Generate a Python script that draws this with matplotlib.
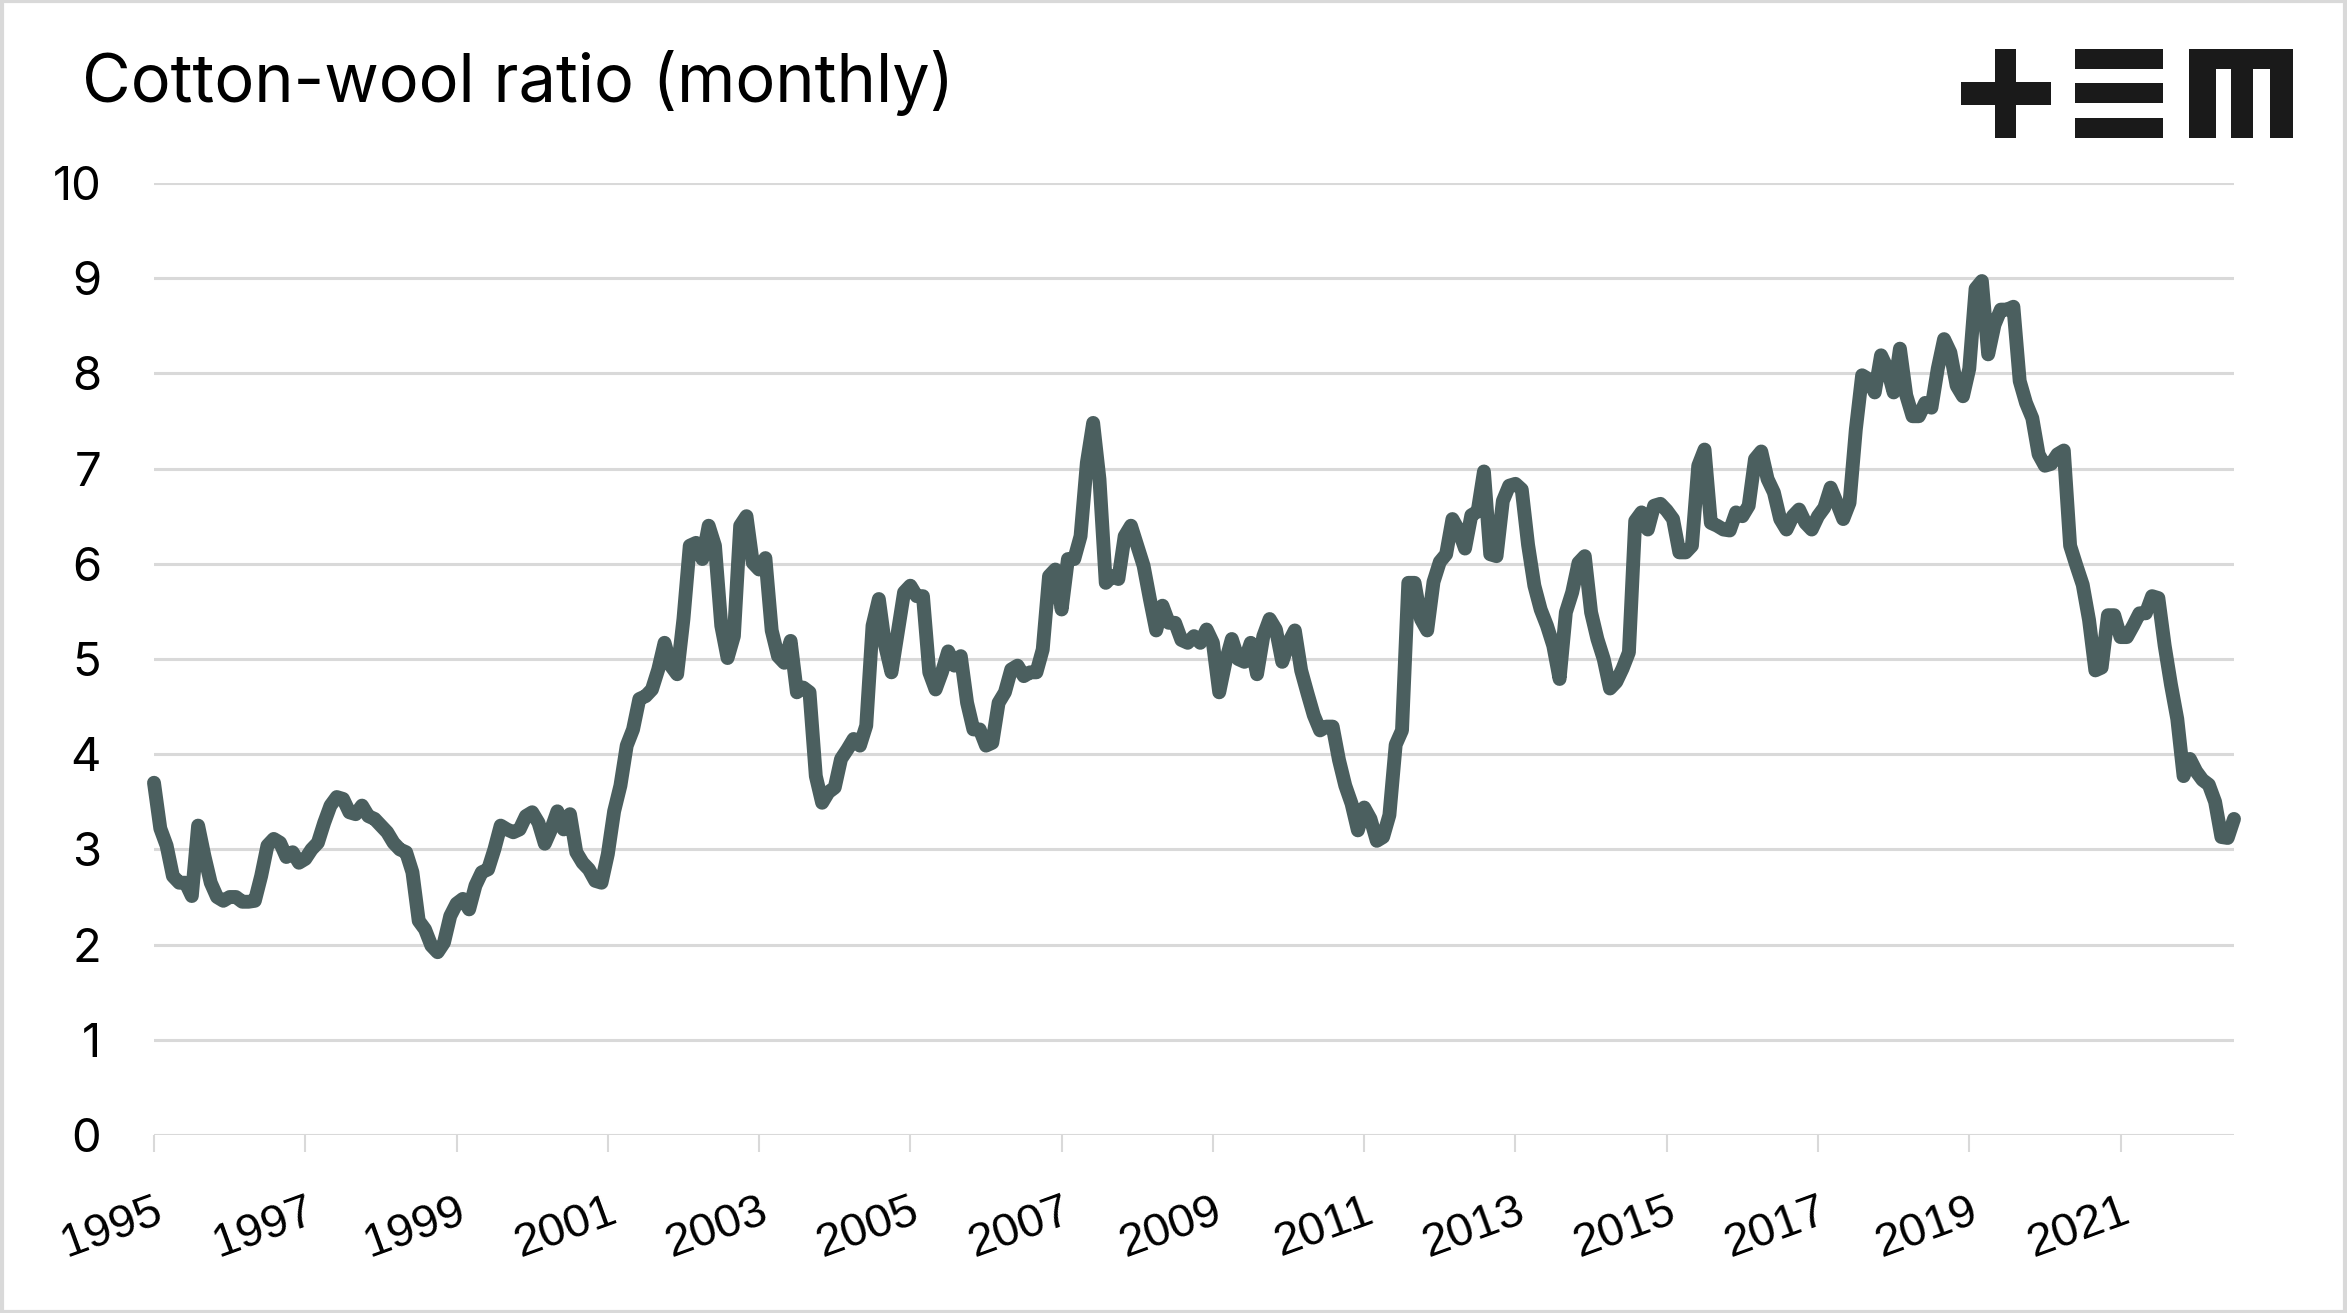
import numpy as np
import matplotlib
matplotlib.use("Agg")
import matplotlib.pyplot as plt
from matplotlib.patches import Rectangle

# ---- data (monthly, Jan 1995 .. Jul 2022) ----
ratio = [
    3.70, 3.22, 3.04, 2.72, 2.65, 2.65, 2.51, 3.25, 2.93, 2.65, 2.50, 2.46,   # 1995
    2.50, 2.50, 2.45, 2.45, 2.46, 2.72, 3.04, 3.11, 3.07, 2.92, 2.97, 2.86,   # 1996
    2.90, 3.00, 3.07, 3.28, 3.46, 3.55, 3.53, 3.39, 3.37, 3.46, 3.35, 3.32,   # 1997
    3.25, 3.18, 3.07, 3.00, 2.97, 2.76, 2.25, 2.16, 1.99, 1.92, 2.02, 2.30,   # 1998
    2.43, 2.48, 2.37, 2.62, 2.76, 2.79, 3.00, 3.25, 3.21, 3.18, 3.21, 3.35,   # 1999
    3.39, 3.28, 3.06, 3.21, 3.40, 3.21, 3.37, 2.97, 2.86, 2.79, 2.67, 2.65,   # 2000
    2.95, 3.40, 3.67, 4.09, 4.26, 4.58, 4.61, 4.68, 4.89, 5.17, 4.93, 4.84,   # 2001
    5.42, 6.19, 6.22, 6.05, 6.40, 6.19, 5.35, 5.01, 5.24, 6.40, 6.50, 6.01,   # 2002
    5.94, 6.06, 5.30, 5.03, 4.96, 5.19, 4.65, 4.70, 4.65, 3.77, 3.49, 3.60,   # 2003
    3.65, 3.95, 4.05, 4.16, 4.09, 4.30, 5.35, 5.63, 5.14, 4.86, 5.28, 5.70,   # 2004
    5.77, 5.66, 5.66, 4.86, 4.68, 4.86, 5.08, 4.93, 5.03, 4.54, 4.26, 4.26,   # 2005
    4.09, 4.12, 4.54, 4.65, 4.89, 4.93, 4.82, 4.86, 4.86, 5.10, 5.87, 5.94,   # 2006
    5.52, 6.05, 6.05, 6.29, 7.06, 7.48, 6.89, 5.80, 5.87, 5.84, 6.29, 6.40,   # 2007
    6.19, 5.98, 5.63, 5.30, 5.56, 5.38, 5.38, 5.20, 5.17, 5.24, 5.17, 5.31,   # 2008
    5.17, 4.65, 4.97, 5.21, 5.00, 4.97, 5.17, 4.84, 5.24, 5.42, 5.31, 4.97,   # 2009
    5.17, 5.30, 4.88, 4.64, 4.41, 4.25, 4.29, 4.29, 3.94, 3.67, 3.48, 3.20,   # 2010
    3.44, 3.32, 3.09, 3.13, 3.36, 4.10, 4.25, 5.80, 5.80, 5.42, 5.30, 5.81,   # 2011
    6.02, 6.10, 6.47, 6.35, 6.16, 6.51, 6.55, 6.97, 6.10, 6.08, 6.66, 6.82,   # 2012
    6.84, 6.78, 6.20, 5.77, 5.52, 5.35, 5.14, 4.79, 5.49, 5.70, 6.01, 6.08,   # 2013
    5.49, 5.21, 5.00, 4.69, 4.76, 4.90, 5.07, 6.45, 6.54, 6.36, 6.61, 6.63,   # 2014
    6.56, 6.47, 6.12, 6.12, 6.19, 7.03, 7.20, 6.43, 6.40, 6.36, 6.35, 6.54,   # 2015
    6.50, 6.61, 7.10, 7.18, 6.89, 6.75, 6.47, 6.36, 6.50, 6.57, 6.43, 6.36,   # 2016
    6.50, 6.59, 6.80, 6.64, 6.47, 6.64, 7.41, 7.98, 7.94, 7.80, 8.19, 8.05,   # 2017
    7.80, 8.26, 7.77, 7.55, 7.55, 7.69, 7.64, 8.05, 8.36, 8.22, 7.87, 7.76,   # 2018
    8.05, 8.89, 8.97, 8.20, 8.51, 8.67, 8.67, 8.70, 7.92, 7.69, 7.53, 7.15,   # 2019
    7.03, 7.05, 7.15, 7.19, 6.19, 5.98, 5.78, 5.41, 4.88, 4.91, 5.46, 5.46,   # 2020
    5.23, 5.23, 5.35, 5.48, 5.48, 5.66, 5.64, 5.14, 4.73, 4.37, 3.77, 3.95,   # 2021
    3.82, 3.73, 3.68, 3.50, 3.13, 3.12, 3.32,                                 # 2022
]
tick_labels = ["1995", "1997", "1999", "2001", "2003", "2005", "2007",
               "2009", "2011", "2013", "2015", "2017", "2019", "2021"]
y_ticks = [0, 1, 2, 3, 4, 5, 6, 7, 8, 9, 10]
title = "Cotton-wool ratio (monthly)"

W, H = 2347, 1313
FONT = ["Inter", "DejaVu Sans"]
plt.rcParams["font.family"] = FONT

fig = plt.figure(figsize=(W / 100, H / 100), dpi=100)
fig.patch.set_facecolor("white")


def fx(px):
    return px / W


def fy(py):
    return 1 - py / H


# plot area
left, right, top, bottom = 154, 2234, 183, 1135
ax = fig.add_axes([fx(left), fy(bottom), fx(right - left), (bottom - top) / H])

x = np.arange(len(ratio))
ax.plot(x, ratio, color="#4b5f5f", lw=10, solid_joinstyle="round",
        solid_capstyle="round", clip_on=False, zorder=3)

ax.set_xlim(0, len(ratio) - 1)
ax.set_ylim(0, 10)
ax.set_yticks(y_ticks)
ax.set_yticklabels([str(v) for v in y_ticks])
ax.grid(axis="y", color="#d9d9d9", lw=2.2, zorder=0)
ax.set_axisbelow(True)
for s in ax.spines.values():
    s.set_visible(False)

ax.set_xticks(np.arange(0, len(ratio), 24)[: len(tick_labels)])
ax.set_xticklabels(tick_labels, rotation=20, ha="right", va="top",
                   rotation_mode="anchor",
                   fontfamily=["Liberation Sans", "DejaVu Sans"])
ax.tick_params(axis="x", length=12, width=1.5, color="#d9d9d9",
               labelsize=34, pad=27)
ax.tick_params(axis="y", length=0, labelsize=34, pad=38)

fig.text(fx(82), fy(102), title, fontsize=48, va="baseline", ha="left",
         color="black")

# logo (+ E m)
logo = [
    (1995, 49, 2016, 138),
    (1961, 82, 2051, 105),
    (2075, 49, 2163, 69),
    (2075, 83, 2163, 103),
    (2075, 118, 2163, 138),
    (2189, 49, 2293, 69),
    (2189, 49, 2216, 138),
    (2231, 49, 2253, 138),
    (2270, 49, 2293, 138),
]
for x0, y0, x1, y1 in logo:
    fig.patches.append(Rectangle((fx(x0), fy(y1)), fx(x1 - x0), (y1 - y0) / H,
                                 transform=fig.transFigure, color="#1a1a1a",
                                 lw=0))

# light frame
fig.patches.append(Rectangle((0.001, 0.001), 0.998, 0.998,
                             transform=fig.transFigure, fill=False,
                             edgecolor="#d9d9d9", lw=3))

fig.savefig("out.png", dpi=100, facecolor="white")
